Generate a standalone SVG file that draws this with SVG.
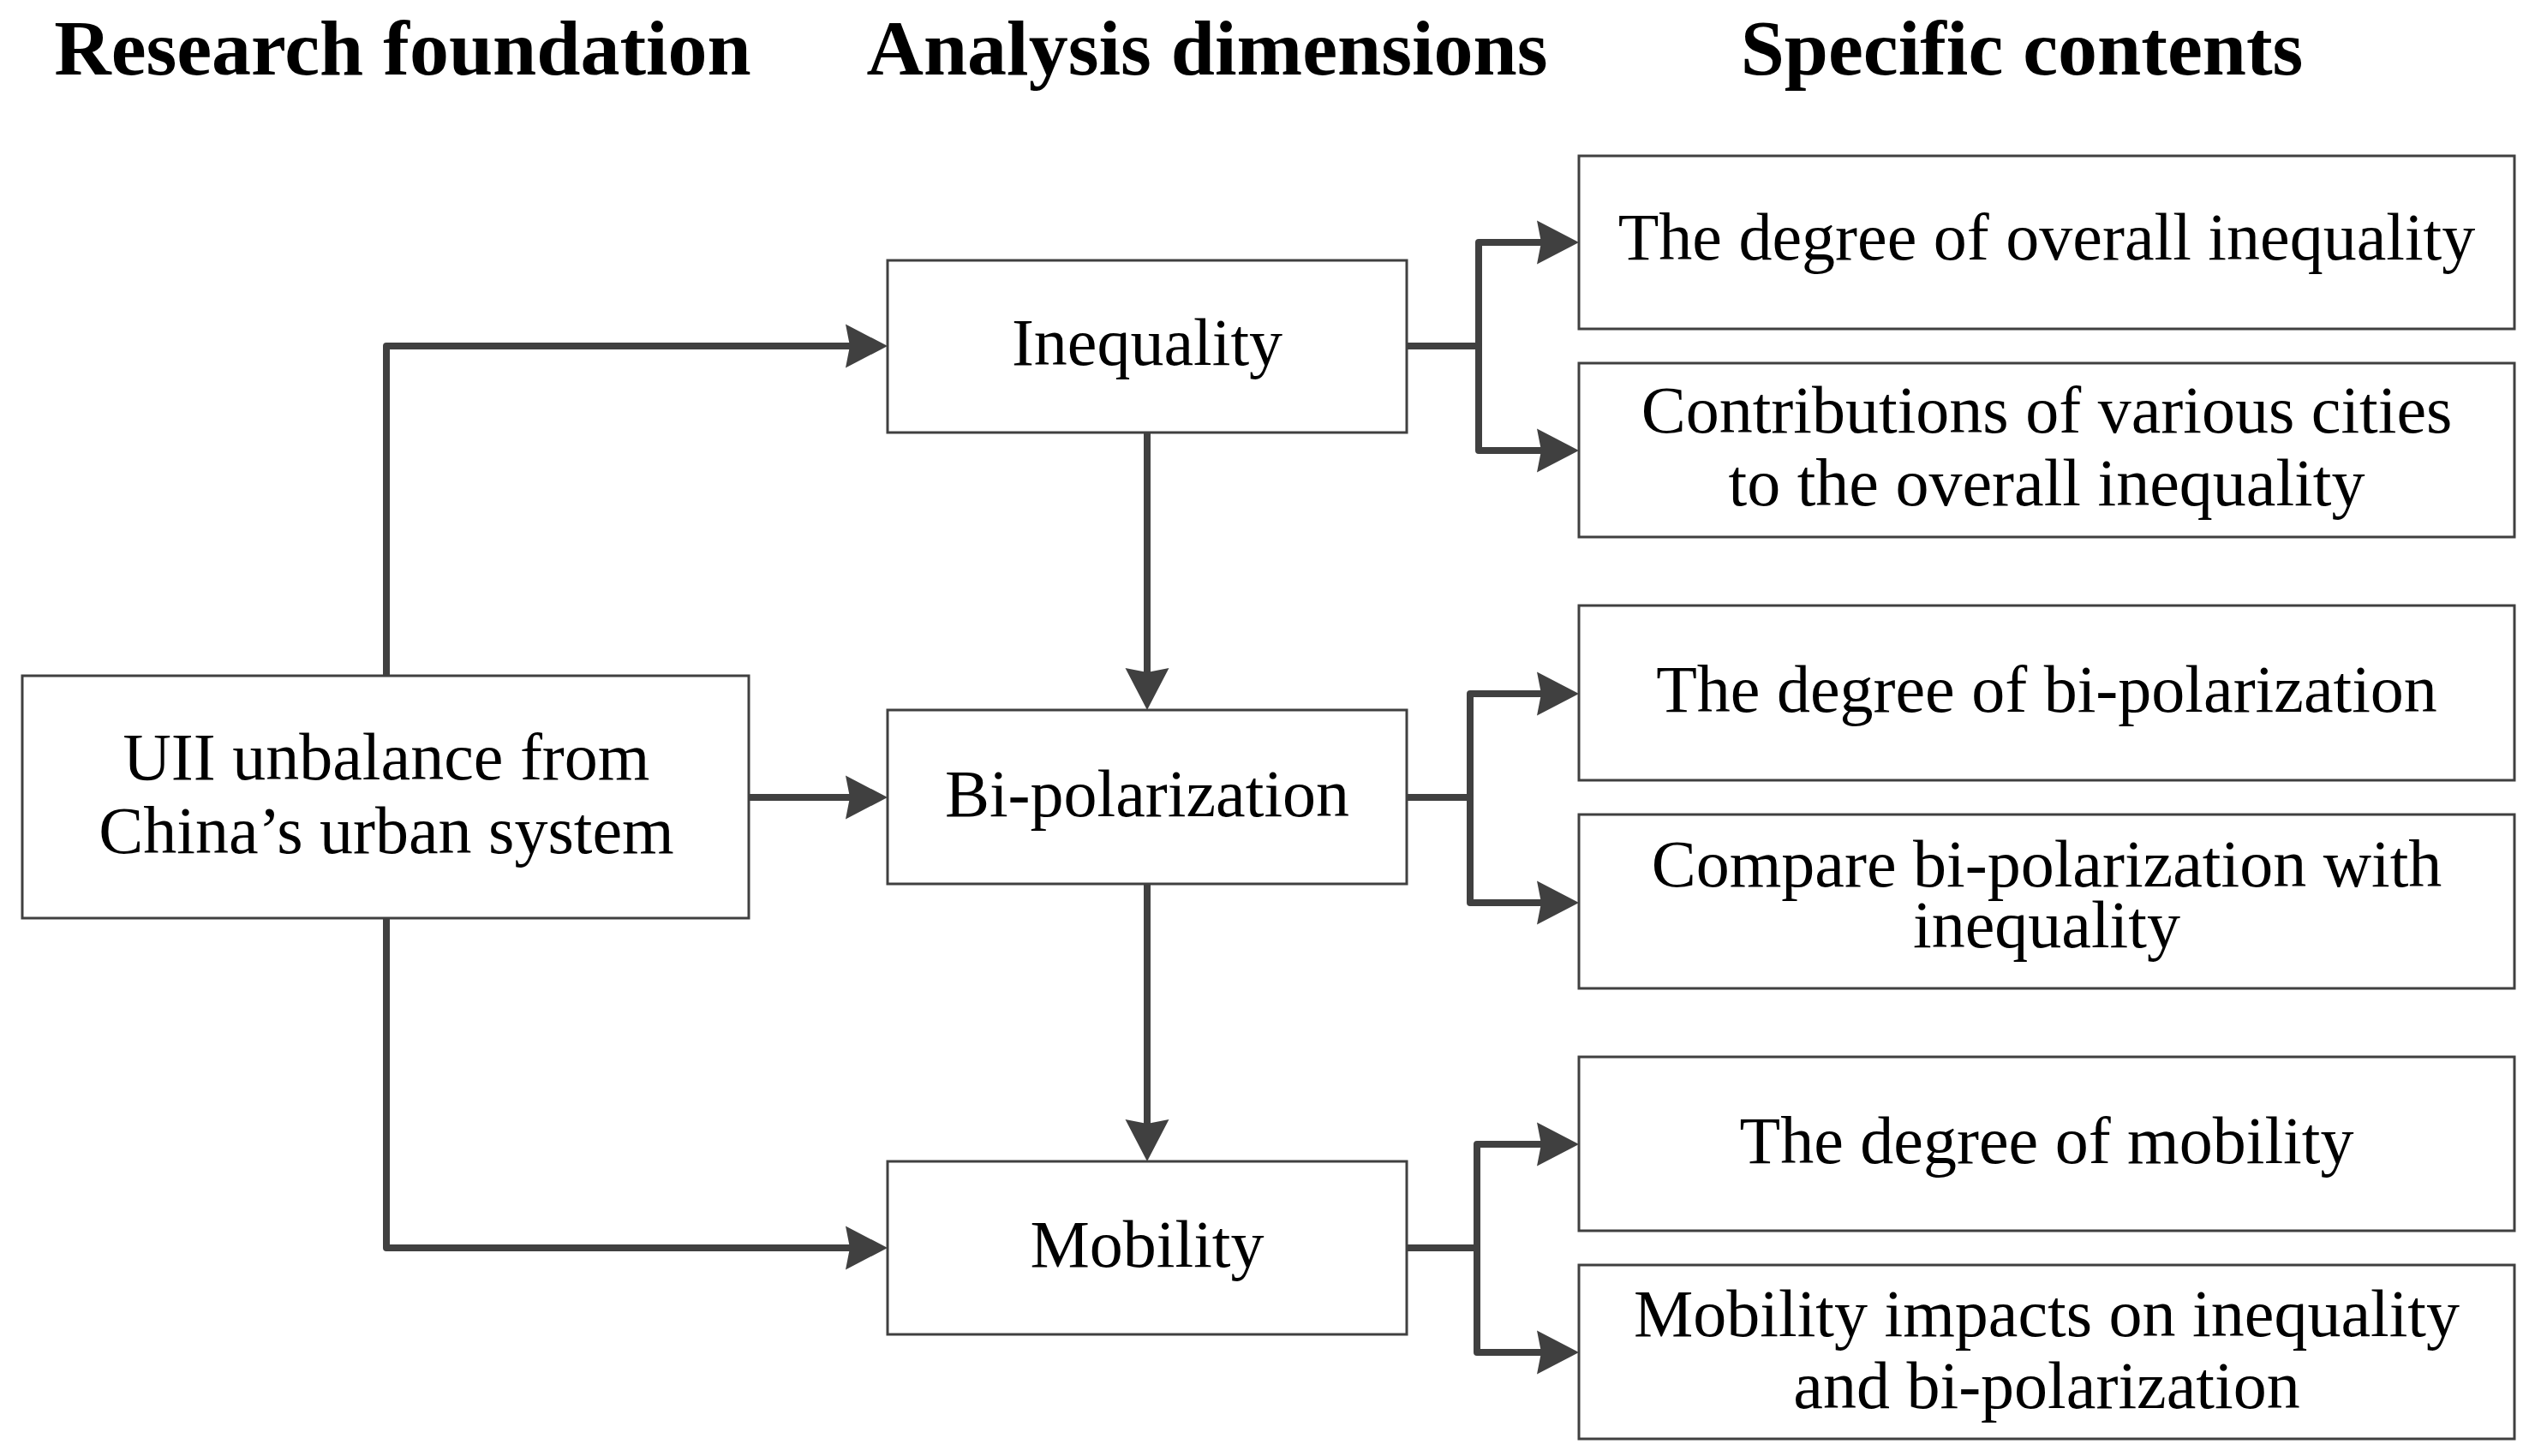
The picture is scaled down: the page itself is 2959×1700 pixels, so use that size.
<svg xmlns="http://www.w3.org/2000/svg" width="2959" height="1700" viewBox="0 0 2959 1700">
<style>
.hdr{font-family:"Liberation Serif","Times New Roman",serif;font-weight:bold;font-size:92px;fill:#000;text-anchor:middle}
.txt{font-family:"Liberation Serif","Times New Roman",serif;font-size:78px;fill:#000;text-anchor:middle}
.box{fill:#fff;stroke:#404040;stroke-width:3}
.con{fill:none;stroke:#404040;stroke-width:8;stroke-linejoin:round;stroke-linecap:round}
.arr{marker-end:url(#ah)}
</style>
<defs>
<marker id="ah" viewBox="-10 -27 52 54" refX="0" refY="0" markerWidth="52" markerHeight="54" markerUnits="userSpaceOnUse" orient="auto">
<path d="M40,0 L-9,-25.5 L-4,0 L-9,25.5 Z" fill="#404040"/>
</marker>
</defs>
<rect width="2959" height="1700" fill="#fff"/>
<g id="headers">
<text class="hdr" x="470" y="87">Research foundation</text>
<text class="hdr" x="1409" y="87">Analysis dimensions</text>
<text class="hdr" x="2360" y="87">Specific contents</text>
</g>
<g id="connectors">
<path class="con arr" d="M451,789 L451,404 L996,404"/>
<path class="con arr" d="M874,931 L996,931"/>
<path class="con arr" d="M451,1072 L451,1457 L996,1457"/>
<path class="con arr" d="M1339,505 L1339,789"/>
<path class="con arr" d="M1339,1032 L1339,1316"/>
<path class="con arr" d="M1642,404 L1726,404 L1726,283 L1803,283"/>
<path class="con arr" d="M1726,404 L1726,526 L1803,526"/>
<path class="con arr" d="M1642,931 L1716,931 L1716,810 L1803,810"/>
<path class="con arr" d="M1716,931 L1716,1054 L1803,1054"/>
<path class="con arr" d="M1642,1457 L1724,1457 L1724,1336 L1803,1336"/>
<path class="con arr" d="M1724,1457 L1724,1579 L1803,1579"/>
</g>
<g id="uii">
<rect class="box" x="26" y="789" width="848" height="283"/>
<text class="txt" x="451" y="910">UII unbalance from</text>
<text class="txt" x="451" y="996">China’s urban system</text>
</g>
<g id="inequality">
<rect class="box" x="1036" y="304" width="606" height="201"/>
<text class="txt" x="1339" y="426">Inequality</text>
</g>
<g id="bipolarization">
<rect class="box" x="1036" y="829" width="606" height="203"/>
<text class="txt" x="1339" y="953">Bi-polarization</text>
</g>
<g id="mobility">
<rect class="box" x="1036" y="1356" width="606" height="202"/>
<text class="txt" x="1339" y="1479">Mobility</text>
</g>
<g id="c1">
<rect class="box" x="1843" y="182" width="1092" height="202"/>
<text class="txt" x="2389" y="303">The degree of overall inequality</text>
</g>
<g id="c2">
<rect class="box" x="1843" y="424" width="1092" height="203"/>
<text class="txt" x="2389" y="505">Contributions of various cities</text>
<text class="txt" x="2389" y="590">to the overall inequality</text>
</g>
<g id="c3">
<rect class="box" x="1843" y="707" width="1092" height="204"/>
<text class="txt" x="2389" y="831">The degree of bi-polarization</text>
</g>
<g id="c4">
<rect class="box" x="1843" y="951" width="1092" height="203"/>
<text class="txt" x="2389" y="1035">Compare bi-polarization with</text>
<text class="txt" x="2389" y="1106">inequality</text>
</g>
<g id="c5">
<rect class="box" x="1843" y="1234" width="1092" height="203"/>
<text class="txt" x="2389" y="1358">The degree of mobility</text>
</g>
<g id="c6">
<rect class="box" x="1843" y="1477" width="1092" height="203"/>
<text class="txt" x="2389" y="1560">Mobility impacts on inequality</text>
<text class="txt" x="2389" y="1644">and bi-polarization</text>
</g>
</svg>
